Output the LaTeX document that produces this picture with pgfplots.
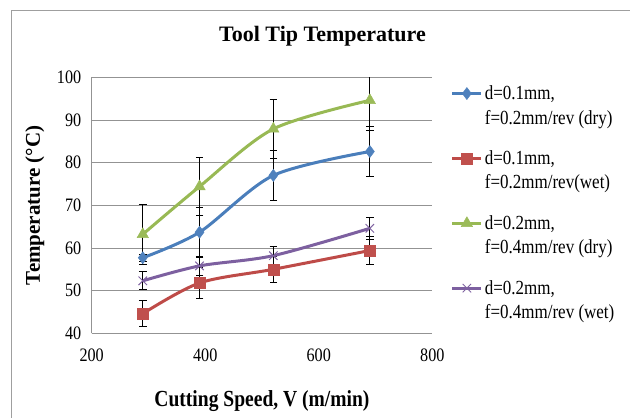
\documentclass[border=0pt]{standalone}
\usepackage{pgfplots}
\pgfplotsset{compat=1.18}
\usepackage{fontspec}
\setmainfont{Liberation Serif}
\newfontfamily\cond[FakeStretch=0.85]{Liberation Serif}

\definecolor{blueL}{HTML}{4A7EBB}
\definecolor{blueM}{HTML}{4F81BD}
\definecolor{redL}{HTML}{BE4B48}
\definecolor{redM}{HTML}{C0504D}
\definecolor{greenL}{HTML}{98B954}
\definecolor{greenM}{HTML}{9BBB59}
\definecolor{purpL}{HTML}{7D60A0}
\definecolor{purpM}{HTML}{8064A2}

% x = cutting speed, y = temperature, e = error
\pgfplotstableread{
x   y    e
290 57.7 0.9
390 63.7 5.8
520 77.0 5.8
690 82.6 5.9
}\dryA
\pgfplotstableread{
x   y    e
290 44.6 3.1
390 51.8 3.6
520 55.0 3.0
690 59.4 3.3
}\wetA
\pgfplotstableread{
x   y    e
290 63.2 7.0
390 74.4 6.8
520 87.9 7.0
690 94.6 7.0
}\dryB
\pgfplotstableread{
x   y    e
290 52.3 2.1
390 55.8 2.2
520 58.2 2.2
690 64.6 2.6
}\wetB

\pgfplotsset{
  xlser/.style={line width=3pt, smooth, tension=0.5,
    error bars/y dir=both, error bars/y explicit,
    error bars/error bar style={black, line width=0.8pt, solid},
    error bars/error mark options={rotate=90, black, mark size=3.8pt, line width=0.8pt}},
}

\begin{document}
\begin{tikzpicture}
\useasboundingbox (0pt,0pt) rectangle (630pt,418pt);
\draw[color=gray!75, line width=1pt] (11pt,0pt) -- (11pt,407.3pt) -- (630pt,407.3pt);
\node[font=\fontsize{22}{26}\selectfont\bfseries, anchor=base] at (322.5pt,376.1pt) {Tool Tip Temperature};
\begin{axis}[
  at={(91.7pt,84.7pt)}, anchor=south west,
  width=340.6pt, height=256pt, scale only axis,
  xmin=200, xmax=800, ymin=40, ymax=100,
  xtick={200,400,600,800}, ytick={40,50,...,100},
  axis x line*=bottom, axis y line*=left,
  axis line style={draw=gray!85, line width=0.8pt, -},
  ymajorgrids, major grid style={gray!85, line width=0.8pt},
  major tick length=0pt,
  tick label style={font=\cond\fontsize{19}{22}\selectfont},
  /pgf/number format/assume math mode=true,
  xticklabel style={yshift=-12pt},
  yticklabel style={xshift=-7pt},
  xlabel={Cutting Speed, V (m/min)},
  ylabel={Temperature (°C)},
  xlabel style={font=\cond\fontsize{23}{27}\selectfont\bfseries,
    at={(axis description cs:0.5,-0.287)}, anchor=base},
  ylabel style={font=\fontsize{21}{25}\selectfont\bfseries,
    at={(axis description cs:-0.152,0.5)}, anchor=base},
  legend style={at={(1.054,0.976)}, anchor=north west, draw=none, fill=none,
    inner sep=0pt, row sep=21pt, font=\cond\fontsize{20}{24.5}\selectfont,
    cells={anchor=base west, align=left}},
  legend image code/.code={\draw[mark repeat=2,mark phase=2,#1]
    plot coordinates {(0pt,30.5pt) (14.5pt,30.5pt) (29pt,30.5pt)};},
]
\addplot[xlser, color=blueL, mark=diamond*, mark size=6pt,
  mark options={fill=blueM, draw=blueM, line width=0.5pt, solid}]
  table[x=x, y=y, y error=e] {\dryA};
\addlegendentry{d=0.1mm,\\f=0.2mm/rev (dry)}
\addplot[xlser, color=redL, mark=square*, mark size=5.5pt,
  mark options={fill=redM, draw=redM, line width=0.5pt, solid}]
  table[x=x, y=y, y error=e] {\wetA};
\addlegendentry{d=0.1mm,\\f=0.2mm/rev(wet)}
\addplot[xlser, color=greenL, mark=triangle*, mark size=6.5pt,
  mark options={fill=greenM, draw=greenM, line width=0.5pt, solid}]
  table[x=x, y=y, y error=e] {\dryB};
\addlegendentry{d=0.2mm,\\f=0.4mm/rev (dry)}
\addplot[xlser, color=purpL, mark=x, mark size=6pt,
  mark options={draw=purpM, line width=1pt, solid}]
  table[x=x, y=y, y error=e] {\wetB};
\addlegendentry{d=0.2mm,\\f=0.4mm/rev (wet)}
\end{axis}
\end{tikzpicture}
\end{document}
